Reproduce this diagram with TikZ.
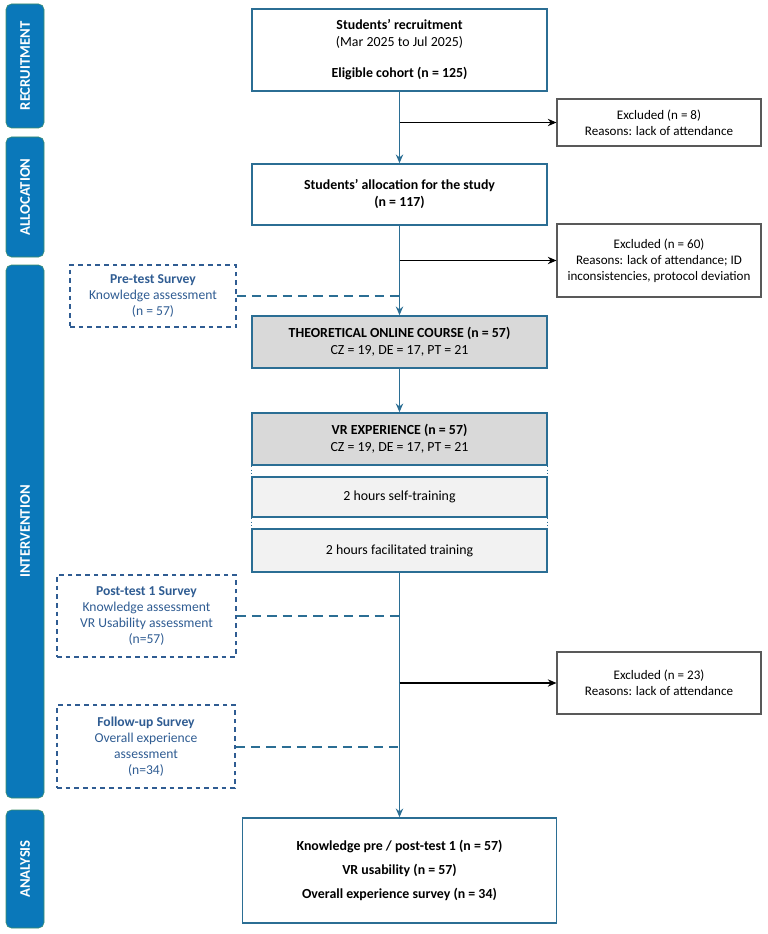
\documentclass[tikz,border=0pt]{standalone}
\usepackage{fontspec}
\setmainfont{Carlito}
\usetikzlibrary{arrows.meta, positioning, calc}
\definecolor{flowblue}{HTML}{2B6E94}
\definecolor{surveyblue}{HTML}{2F5C92}
\definecolor{phaseblue}{HTML}{0A78BA}
\definecolor{phaseedge}{HTML}{3F8F6A}
\definecolor{exgray}{HTML}{595959}
\definecolor{headgray}{HTML}{D9D9D9}
\definecolor{subgray}{HTML}{F2F2F2}

\begin{document}
\begin{tikzpicture}[
    x=0.75pt, y=-0.75pt,
    >={Stealth[length=6.5pt, width=5.5pt]},
    flowbox/.style={draw=flowblue, line width=1.2pt, fill=#1, minimum width=221pt, align=center, inner sep=2pt, font=\fontsize{10.4}{12.75}\selectfont},
    flowbox/.default=white,
    exbox/.style={draw=exgray, line width=0.8pt, fill=white, minimum width=153pt, align=center, inner sep=2pt, font=\fontsize{9.8}{12}\selectfont},
    survey/.style={draw=surveyblue, dash pattern=on 3.5pt off 3pt, line width=0.9pt, align=center, inner sep=2pt, text=surveyblue, font=\fontsize{10.2}{12}\selectfont},
    phase/.style={rotate=90, fill=phaseblue, draw=phaseedge, line width=0.4pt, rounded corners=4pt, minimum height=28.5pt, text=white, font=\bfseries\fontsize{11}{12}\selectfont},
    flow/.style={->, line width=1.2pt, color=flowblue},
    exarrow/.style={->, line width=0.8pt, color=black},
    link/.style={line width=1.5pt, color=flowblue, dash pattern=on 7pt off 4.5pt},
]
\useasboundingbox (0,0) rectangle (767,934);

% Phase bars
\node[phase, minimum width=93pt] (recbar) at (25,66) {RECRUITMENT};
\node[phase, minimum width=90pt] (allbar) at (25,197) {ALLOCATION};
\node[phase, minimum width=399.75pt] (intbar) at (25,531.5) {INTERVENTION};
\node[phase, minimum width=88.5pt] (anabar) at (25,869) {ANALYSIS};

% Flow steps
\node[flowbox, minimum height=61.5pt] (recruit) at (399.5,50) {\textbf{Students’ recruitment}\\(Mar 2025 to Jul 2025)\\[10.5pt]\textbf{Eligible cohort (n = 125)}};
\node[flowbox, minimum height=45.75pt] (alloc) at (399.5,194.5) {\textbf{Students’ allocation for the study}\\\textbf{(n = 117)}};
\node[flowbox=headgray, minimum height=39pt] (theory) at (399.5,342) {\textbf{THEORETICAL ONLINE COURSE (n = 57)}\\CZ = 19, DE = 17, PT = 21};
\node[flowbox=headgray, minimum height=39pt] (vr) at (399.5,439) {\textbf{VR EXPERIENCE (n = 57)}\\CZ = 19, DE = 17, PT = 21};
\node[flowbox=subgray, minimum height=30pt] (self) at (399.5,497) {2 hours self-training};
\node[flowbox=subgray, minimum height=32.25pt] (facil) at (399.5,550.5) {2 hours facilitated training};
\node[flowbox, minimum width=235.5pt, minimum height=78.75pt, font=\bfseries\fontsize{10.4}{12.75}\selectfont] (result) at (399.5,870.5) {Knowledge pre / post-test 1 (n = 57)\\[5.25pt]VR usability (n = 57)\\[5.25pt]Overall experience survey (n = 34)};

% Group edges of the VR block
\draw[flowblue, dotted, line width=0.8pt] (vr.south west) -- (self.north west);
\draw[flowblue, dotted, line width=0.8pt] (vr.south east) -- (self.north east);
\draw[flowblue, dotted, line width=0.8pt] (self.south west) -- (facil.north west);
\draw[flowblue, dotted, line width=0.8pt] (self.south east) -- (facil.north east);

% Excluded
\node[exbox, minimum height=35.25pt] (ex1) at (659,122.5) {Excluded (n = 8)\\Reasons: lack of attendance};
\node[exbox, minimum height=54.75pt] (ex2) at (659,260.5) {Excluded (n = 60)\\Reasons: lack of attendance; ID\\inconsistencies, protocol deviation};
\node[exbox, minimum height=46.5pt] (ex3) at (659,683) {Excluded (n = 23)\\Reasons: lack of attendance};

% Surveys
\node[survey, minimum width=124.5pt, minimum height=46.5pt] (pre) at (153,296) {\textbf{Pre-test Survey}\\Knowledge assessment\\(n = 57)};
\node[survey, minimum width=134.25pt, minimum height=61.5pt] (post) at (146.5,616) {\textbf{Post-test 1 Survey}\\Knowledge assessment\\VR Usability assessment\\(n=57)};
\node[survey, minimum width=133.5pt, minimum height=62.25pt] (follow) at (146,746.5) {\textbf{Follow-up Survey}\\Overall experience\\assessment\\(n=34)};

% Arrows
\draw[flow] (recruit) -- (alloc);
\draw[flow] (alloc) -- (theory);
\draw[flow] (theory) -- (vr);
\draw[flow] (facil) -- (result);

\draw[exarrow] (recruit.south |- ex1.west) -- (ex1.west);
\draw[exarrow] (alloc.south |- ex2.west) -- (ex2.west);
\draw[exarrow] (facil.south |- ex3.west) -- (ex3.west);

% Survey links
\draw[link] (pre.east) -- (pre.east -| alloc.south);
\draw[link] (post.east) -- (post.east -| facil.south);
\draw[link] (follow.east) -- (follow.east -| facil.south);

\end{tikzpicture}
\end{document}
